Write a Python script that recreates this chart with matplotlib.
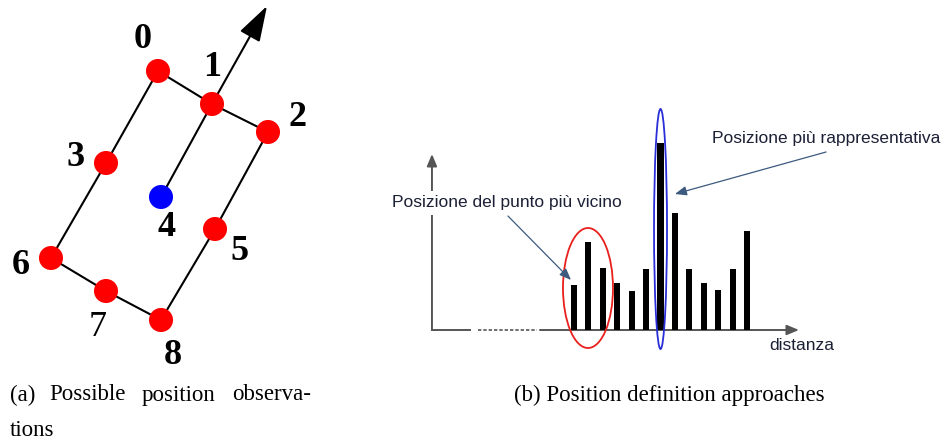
import matplotlib
matplotlib.use("Agg")
import matplotlib.pyplot as plt
from matplotlib.patches import Ellipse
import numpy as np

# --- (a) grid of candidate positions (pixel layout of the sketch) ---
pt_labels = ["0", "1", "2", "3", "4", "5", "6", "7", "8"]
pt_x = [158, 212, 268, 106, 161, 215, 51, 106, 161]
pt_y = [71, 104, 132, 163, 197, 229, 258, 291, 320]
pt_colors = ["red", "red", "red", "red", "blue", "red", "red", "red", "red"]
lab_x = [143, 212, 298, 76, 166, 239, 21, 98, 173]
lab_y = [40, 67, 117, 157, 227, 251, 265, 328, 355]
edges = [(0, 1), (1, 2), (0, 3), (3, 6), (6, 7), (7, 8), (8, 5), (5, 2), (4, 1)]
heading_tip = (267, 6)

# --- (b) distance histogram ---
bar_pos = np.arange(13)
bar_h = [45, 88, 62, 47, 39, 61, 187, 117, 61, 47, 40, 61, 99]

c_text = "#1b2035"
c_arrow = "#3d5a7f"
c_axis = "#555555"

fig = plt.figure(figsize=(9.44, 4.41), dpi=100)

# full-figure axes in pixel units for the diagram and captions
ax = fig.add_axes([0, 0, 1, 1])
ax.set_xlim(0, 944)
ax.set_ylim(441, 0)
ax.axis("off")

for a, b in edges:
    ax.plot([pt_x[a], pt_x[b]], [pt_y[a], pt_y[b]], color="black", lw=1.5, zorder=1)
ax.annotate("", xy=heading_tip, xytext=(pt_x[1], pt_y[1]),
            arrowprops=dict(arrowstyle="-|>,head_length=1.1,head_width=0.35",
                            mutation_scale=20, color="black", lw=1.5,
                            shrinkA=0, shrinkB=0), zorder=1)
ax.scatter(pt_x, pt_y, s=300, c=pt_colors, zorder=3, linewidths=0)
for i, t in enumerate(pt_labels):
    ax.text(lab_x[i], lab_y[i], t, ha="center", va="center", fontsize=26,
            family="Liberation Serif", fontweight="normal" if t == "7" else "bold")

cap = dict(fontsize=16.5, family="Liberation Serif", va="center", ha="left")
for word, x in zip(["(a)", "Possible", "position", "observa-"], [10, 49, 142, 232]):
    ax.text(x, 395, word, **cap)
ax.text(10, 430, "tions", **cap)
ax.text(669, 395, "(b) Position definition approaches", fontsize=16.5,
        family="Liberation Serif", va="center", ha="center")

# bar axes: x in bar slots, y in bar height units (0 at the baseline)
slot = 14.42
x0_px, y0_px = 574, 330
left_px, right_px, top_px, bot_px = 380, 944, 90, 370
bx = fig.add_axes([left_px / 944, 1 - bot_px / 441,
                   (right_px - left_px) / 944, (bot_px - top_px) / 441])
bx.set_xlim((left_px - x0_px) / slot, (right_px - x0_px) / slot)
bx.set_ylim(y0_px - bot_px, y0_px - top_px)
bx.axis("off")
bx.patch.set_alpha(0)

bx.bar(bar_pos, bar_h, width=0.42, color="black", zorder=2)

# hand-drawn style axes with a broken stretch on the left
xa = -9.85
bx.plot([xa, -7.2], [0, 0], color=c_axis, lw=1.4, zorder=1)
bx.plot([-6.66, -2.57], [0, 0], color=c_axis, lw=1.2, ls=(0, (2, 1.2)), zorder=1)
bx.annotate("", xy=(15.6, 0), xytext=(-2.36, 0),
            arrowprops=dict(arrowstyle="-|>,head_length=0.6,head_width=0.25",
                            mutation_scale=12, color=c_axis, lw=1.4,
                            shrinkA=0, shrinkB=0), zorder=1)
bx.annotate("", xy=(xa, 176), xytext=(xa, 0),
            arrowprops=dict(arrowstyle="-|>,head_length=0.6,head_width=0.25",
                            mutation_scale=12, color=c_axis, lw=1.4,
                            shrinkA=0, shrinkB=0), zorder=1)

bx.add_patch(Ellipse((0.97, 42), 50 / slot, 120, fill=False, ec="#e8201c", lw=1.3, zorder=3))
bx.add_patch(Ellipse((6.0, 101), 13 / slot, 240, fill=False, ec="#2a2ed8", lw=1.3, zorder=3))

note = dict(fontsize=12.5, family="Liberation Sans", color=c_text, va="center")
bx.text(-4.65, 127, "Posizione del punto più vicino", ha="center", zorder=4,
        bbox=dict(fc="white", ec="none", pad=3), **note)
bx.text(17.5, 192, "Posizione più rappresentativa", ha="center", **note)
bx.text(15.8, -15, "distanza", ha="center", **note)

arrow_kw = dict(arrowstyle="-|>,head_length=0.5,head_width=0.2", mutation_scale=14,
                color=c_arrow, lw=0.9, shrinkA=0, shrinkB=0)
bx.annotate("", xy=(-0.21, 50), xytext=(-4.58, 114), arrowprops=arrow_kw)
bx.annotate("", xy=(7.0, 136), xytext=(17.48, 178), arrowprops=arrow_kw)

fig.savefig("out.png", dpi=100)
